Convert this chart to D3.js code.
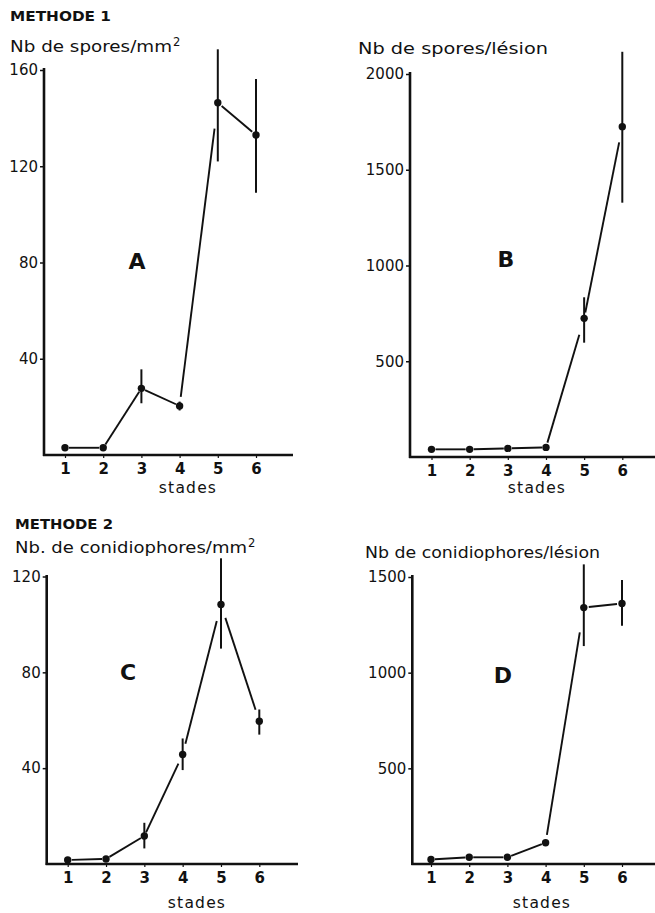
<!DOCTYPE html>
<html><head><meta charset="utf-8">
<script src="https://cdn.jsdelivr.net/npm/d3@7"></script>
<style>
html,body{margin:0;padding:0;background:#fff;}
svg{display:block;font-family:"DejaVu Sans",sans-serif;}
</style></head>
<body>
<script>
// ---------- DATA ----------
const stades = [1, 2, 3, 4, 5, 6];

const sporesMm2      = [3, 3, 27.7, 20.4, 146.4, 133];
const sporesMm2Low   = [null, null, 21.5, 18.5, 122, 109];
const sporesMm2High  = [null, null, 35.6, 22.2, 168.6, 156.3];

const sporesLesion     = [40, 40, 45, 50, 724, 1725];
const sporesLesionLow  = [null, null, null, null, 597, 1328];
const sporesLesionHigh = [null, null, null, null, 834, 2116];

const conidMm2      = [1.7, 2.1, 11.7, 45.7, 108.3, 59.6];
const conidMm2Low   = [null, null, 6.5, 39.2, 89.9, 54];
const conidMm2High  = [null, null, 17.2, 52.4, 127.6, 64.5];

const conidLesion     = [24, 35, 35, 111, 1340, 1362];
const conidLesionLow  = [null, null, null, null, 1139, 1245];
const conidLesionHigh = [null, null, null, null, 1566, 1484];

const ticksA = [40, 80, 120, 160];
const ticksB = [500, 1000, 1500, 2000];
const ticksC = [40, 80, 120];
const ticksD = [500, 1000, 1500];

// ---------- LAYOUT / STYLE ----------
const W = 655, H = 913;
const FONT = "'DejaVu Sans',sans-serif";
const svg = d3.select("body").append("svg").attr("width", W).attr("height", H);

const panels = [
  { letter: "A", values: sporesMm2, low: sporesMm2Low, high: sporesMm2High, ticks: ticksA, ymax: 160,
    xr: [65, 256], yr: [455, 70], axL: 44, axR: 293, axTop: 68,
    letterPos: [137, 269], stadesPos: [188, 493],
    gaps: [[4,4],[4,4],[4,4],[9,26],[5,5]] },
  { letter: "B", values: sporesLesion, low: sporesLesionLow, high: sporesLesionHigh, ticks: ticksB, ymax: 2000,
    xr: [431.5, 622.3], yr: [457, 74], axL: 410, axR: 655, axTop: 72,
    letterPos: [506, 267], stadesPos: [537, 493],
    gaps: [[4,4],[4,4],[4,4],[5,17],[6,16]] },
  { letter: "C", values: conidMm2, low: conidMm2Low, high: conidMm2High, ticks: ticksC, ymax: 120,
    xr: [67.7, 259.3], yr: [864, 576.5], axL: 46.7, axR: 298, axTop: 575,
    letterPos: [128, 680], stadesPos: [197, 908],
    gaps: [[4,4],[4,4],[4,10],[11,17],[14,12]] },
  { letter: "D", values: conidLesion, low: conidLesionLow, high: conidLesionHigh, ticks: ticksD, ymax: 1500,
    xr: [431, 622], yr: [864, 577], axL: 412.3, axR: 655, axTop: 575,
    letterPos: [503, 683], stadesPos: [542, 908],
    gaps: [[4,4],[4,4],[4,4],[8,25],[5,5]] }
];

// titles
function title(txt, x, y, size, weight, len, sup) {
  const t = svg.append("text").attr("x", x).attr("y", y)
    .attr("font-size", size).attr("font-weight", weight).attr("fill", "#111");
  t.append("tspan").text(txt).attr("textLength", len).attr("lengthAdjust", "spacingAndGlyphs");
  if (sup) t.append("tspan").text(sup).attr("dx", 1).attr("dy", -6).attr("font-size", size * 0.7);
}
title("METHODE 1", 10, 21, 13.5, "bold", 101);
title("Nb de spores/mm", 10, 52, 16.5, "normal", 162, "2");
title("Nb de spores/lésion", 358, 54, 16.5, "normal", 190);
title("METHODE 2", 15, 529, 13.5, "bold", 98);
title("Nb. de conidiophores/mm", 15, 553, 16.5, "normal", 232, "2");
title("Nb de conidiophores/lésion", 365, 558, 16.5, "normal", 235);

panels.forEach(p => {
  const x = d3.scaleLinear().domain([1, 6]).range(p.xr);
  const y = d3.scaleLinear().domain([0, p.ymax]).range(p.yr);
  const g = svg.append("g");
  const y0 = y(0);

  // y axis
  const ya = g.append("g").attr("transform", `translate(${p.axL},0)`)
    .call(d3.axisLeft(y).tickValues(p.ticks).tickSize(4).tickPadding(2).tickFormat(d3.format("d")));
  ya.select(".domain").remove();
  ya.selectAll(".tick line").attr("stroke", "#111").attr("stroke-width", 1.5);
  ya.selectAll(".tick text").attr("font-size", 15).attr("fill", "#111").attr("font-family", FONT);

  // x axis
  const xa = g.append("g").attr("transform", `translate(0,${y0})`)
    .call(d3.axisBottom(x).tickValues(stades).tickSize(3).tickPadding(5).tickFormat(d3.format("d")));
  xa.select(".domain").remove();
  xa.selectAll(".tick line").attr("stroke", "#111").attr("stroke-width", 1.2);
  xa.selectAll(".tick text").attr("font-size", 15).attr("font-weight", "bold").attr("fill", "#111")
    .attr("font-family", FONT);

  // axis lines
  g.append("line").attr("x1", p.axL).attr("x2", p.axL).attr("y1", p.axTop).attr("y2", y0 + 1)
    .attr("stroke", "#111").attr("stroke-width", 2.6);
  g.append("line").attr("x1", p.axL - 1).attr("x2", p.axR).attr("y1", y0).attr("y2", y0)
    .attr("stroke", "#111").attr("stroke-width", 2.6);

  // connecting segments (hand-drawn gaps near markers)
  const pts = stades.map((s, i) => [x(s), y(p.values[i])]);
  for (let i = 0; i < pts.length - 1; i++) {
    const [x1, y1] = pts[i], [x2, y2] = pts[i + 1];
    const dx = x2 - x1, dy = y2 - y1, L = Math.hypot(dx, dy);
    const [ga, gb] = p.gaps[i];
    g.append("line")
      .attr("x1", x1 + dx * ga / L).attr("y1", y1 + dy * ga / L)
      .attr("x2", x2 - dx * gb / L).attr("y2", y2 - dy * gb / L)
      .attr("stroke", "#111").attr("stroke-width", 1.9);
  }

  // error bars
  stades.forEach((s, i) => {
    if (p.low[i] == null) return;
    g.append("line").attr("x1", x(s)).attr("x2", x(s))
      .attr("y1", y(p.high[i])).attr("y2", y(p.low[i]))
      .attr("stroke", "#111").attr("stroke-width", 2);
  });

  // markers
  g.selectAll("circle.m").data(stades).join("circle")
    .attr("cx", d => x(d)).attr("cy", (d, i) => y(p.values[i])).attr("r", 3.7).attr("fill", "#111");

  // panel letter
  g.append("text").attr("x", p.letterPos[0]).attr("y", p.letterPos[1]).attr("text-anchor", "middle")
    .attr("font-size", 22).attr("font-weight", "bold").attr("fill", "#111").text(p.letter);

  // x label
  g.append("text").attr("x", p.stadesPos[0]).attr("y", p.stadesPos[1]).attr("text-anchor", "middle")
    .attr("font-size", 15.5).attr("letter-spacing", 1.2).attr("fill", "#111").text("stades");
});
</script>
</body></html>
